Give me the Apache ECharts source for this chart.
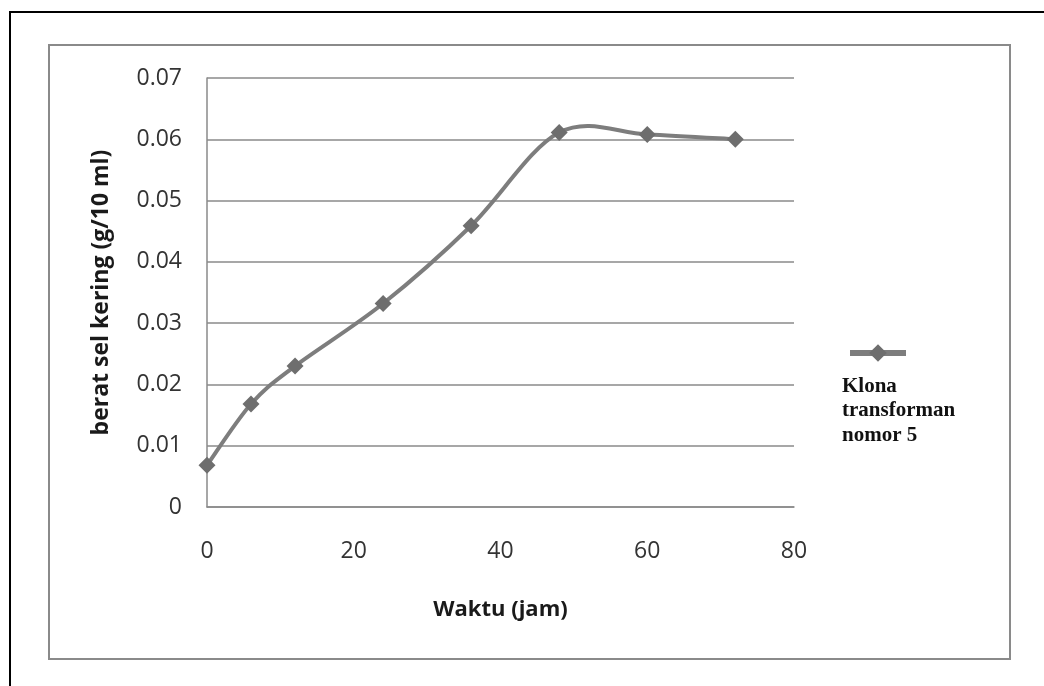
<!DOCTYPE html>
<html>
<head>
<meta charset="utf-8">
<script src="https://cdn.jsdelivr.net/npm/echarts@6/dist/echarts.min.js"></script>
<style>
  html, body { margin: 0; padding: 0; background: #ffffff; }
  #chart { width: 1044px; height: 686px; }
</style>
</head>
<body>
<div id="chart"></div>
<script>
// Dry cell weight over cultivation time
const hours = [0, 6, 12, 24, 36, 48, 60, 72];
const dryWeight = [0.0068, 0.0168, 0.0230, 0.0332, 0.0459, 0.0611, 0.0608, 0.0600];
const seriesName = 'Klona transforman nomor 5';
const legendLines = ['Klona', 'transforman', 'nomor 5'];
const xTicks = { min: 0, max: 80, step: 20 };
const yTicks = { min: 0, max: 0.07, step: 0.01 };

const sans = '"Open Sans", Lato, sans-serif';
const lineColor = '#7d7d7d';
const markerColor = '#6e6e6e';
const chart = echarts.init(document.getElementById('chart'));

const points = hours.map((h, i) => [h, dryWeight[i]]);

// Smooth curve through the points (cardinal spline, tension 1/6),
// positioned with the chart's own coordinate system.
function renderCurve(params, api) {
  if (params.dataIndex !== 0) return null;
  const p = points.map(pt => api.coord(pt));
  const n = p.length;
  let d = 'M' + p[0][0] + ' ' + p[0][1];
  for (let i = 0; i < n - 1; i++) {
    const p0 = p[Math.max(i - 1, 0)];
    const p1 = p[i];
    const p2 = p[i + 1];
    const p3 = p[Math.min(i + 2, n - 1)];
    const c1x = p1[0] + (p2[0] - p0[0]) / 6;
    const c1y = p1[1] + (p2[1] - p0[1]) / 6;
    const c2x = p2[0] - (p3[0] - p1[0]) / 6;
    const c2y = p2[1] - (p3[1] - p1[1]) / 6;
    d += ' C' + c1x + ' ' + c1y + ' ' + c2x + ' ' + c2y + ' ' + p2[0] + ' ' + p2[1];
  }
  return {
    type: 'path',
    shape: { pathData: d },
    style: { stroke: lineColor, lineWidth: 4, fill: 'none', lineJoin: 'round', lineCap: 'round' }
  };
}

chart.setOption({
  backgroundColor: '#ffffff',
  animation: false,
  grid: { left: 207, top: 78, right: 250, bottom: 179 },
  xAxis: {
    type: 'value',
    min: xTicks.min, max: xTicks.max, interval: xTicks.step,
    name: 'Waktu (jam)',
    nameLocation: 'middle',
    nameGap: 92,
    nameTextStyle: { fontFamily: sans, fontSize: 22, fontWeight: 'bold', color: '#1a1a1a', verticalAlign: 'top' },
    axisLine: { show: true, lineStyle: { color: '#8a8a8a', width: 1.5 } },
    axisTick: { show: false },
    axisLabel: { margin: 33, fontFamily: sans, fontSize: 23, color: '#333' },
    splitLine: { show: false }
  },
  yAxis: {
    type: 'value',
    min: yTicks.min, max: yTicks.max, interval: yTicks.step,
    name: 'berat sel kering (g/10 ml)',
    nameLocation: 'middle',
    nameGap: 94,
    nameRotate: 90,
    nameTextStyle: { fontFamily: sans, fontSize: 23, fontWeight: 'bold', color: '#1a1a1a' },
    axisLine: { show: true, lineStyle: { color: '#8a8a8a', width: 1.5 } },
    axisTick: { show: false },
    axisLabel: {
      margin: 25, fontFamily: sans, fontSize: 23, color: '#333',
      formatter: v => (v === 0 ? '0' : v.toFixed(2))
    },
    splitLine: { show: true, lineStyle: { color: '#8a8a8a', width: 1.5 } }
  },
  legend: {
    left: 847, top: 342,
    padding: 0,
    orient: 'vertical',
    itemWidth: 56, itemHeight: 22,
    selectedMode: false,
    formatter: () => '',
    lineStyle: { color: lineColor, width: 6, opacity: 1 },
    itemStyle: { color: markerColor },
    data: [seriesName]
  },
  series: [
    {
      type: 'custom',
      name: 'curve',
      data: points,
      renderItem: renderCurve,
      silent: true,
      z: 2
    },
    {
      name: seriesName,
      type: 'line',
      data: points,
      symbol: 'diamond',
      symbolSize: 17,
      lineStyle: { width: 0, opacity: 0 },
      itemStyle: { color: markerColor },
      z: 3
    }
  ],
  graphic: [
    // document frame
    { type: 'rect', shape: { x: 10, y: 12, width: 1060, height: 700 }, style: { fill: 'none', stroke: '#000', lineWidth: 2 }, z: -10 },
    // chart border
    { type: 'rect', shape: { x: 49, y: 45, width: 961, height: 614 }, style: { fill: 'none', stroke: '#8a8a8a', lineWidth: 2 }, z: -9 },
    {
      type: 'text', left: 842, top: 374,
      style: {
        text: legendLines.join('\n'),
        font: 'bold 21px "Liberation Serif", "Times New Roman", serif',
        lineHeight: 24.5,
        fill: '#111'
      }
    }
  ]
});
</script>
</body>
</html>
